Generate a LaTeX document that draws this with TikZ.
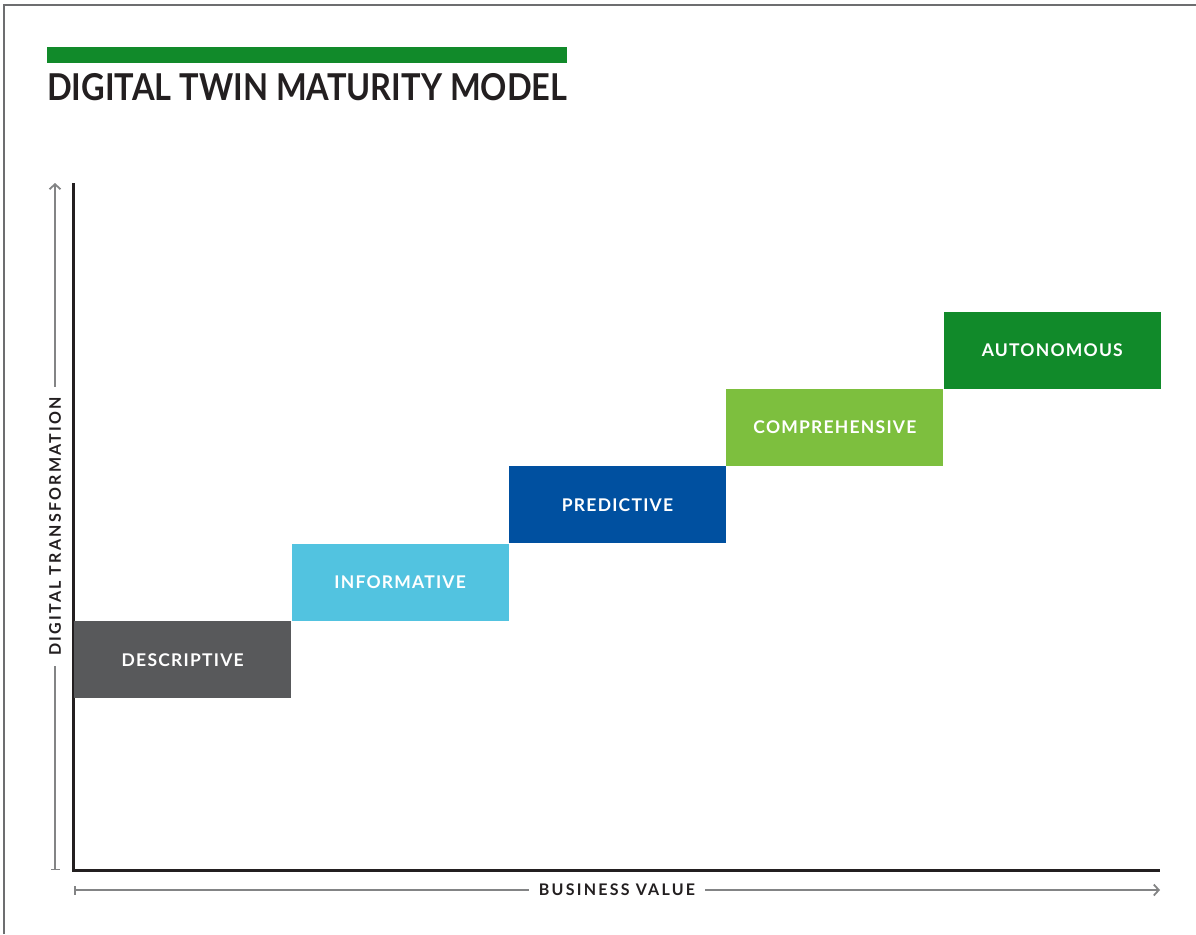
\documentclass[tikz,border=0pt]{standalone}
\usepackage{fontspec}
\setmainfont{Lato}
\newfontfamily\titlefont[FakeStretch=0.88]{Lato}
\newfontfamily\axisfont[LetterSpace=14]{Lato}
\newfontfamily\stagefont[LetterSpace=7]{Lato}
\usetikzlibrary{positioning}
\usetikzlibrary{arrows.meta}

\definecolor{twingreen}{HTML}{118A2A}
\definecolor{descgrey}{HTML}{58595B}
\definecolor{infoblue}{HTML}{52C3E0}
\definecolor{predblue}{HTML}{0050A0}
\definecolor{compgreen}{HTML}{7DBF3E}
\definecolor{inkdark}{HTML}{231F20}
\definecolor{framegrey}{HTML}{6D6E70}

\tikzset{
  stage/.style={minimum width=217pt,minimum height=77pt,inner sep=0pt,
    text=white,font=\stagefont\fontsize{17.5}{19}\selectfont\bfseries},
  mainaxis/.style={line width=3pt,draw=inkdark},
  guide/.style={line width=1.5pt,draw=framegrey!85,{Bar[width=9pt]}-{Straight Barb[length=5pt,width=11pt,line width=1.8pt]}},
  guidelabel/.style={fill=white,inner xsep=10pt,text=inkdark,
    font=\axisfont\fontsize{16}{18}\selectfont\bfseries}
}

\begin{document}
\begin{tikzpicture}[x=1pt,y=-1pt]
  \useasboundingbox (0,0) rectangle (1196,934);
  % frame
  \draw[framegrey,line width=2pt] (4,934) -- (4,5) -- (1196,5);

  % title
  \fill[twingreen] (47,47) rectangle (567,63);
  \node[anchor=base west,inner sep=0pt,text=inkdark,font=\titlefont\fontsize{37}{40}\selectfont\bfseries] (title) at (47,100) {DIGITAL TWIN MATURITY MODEL};

  % axes
  \coordinate (origin) at (73,870);
  \coordinate (ytop) at (73,183);
  \coordinate (xend) at (1160,870);
  \draw[mainaxis] (ytop) -- (origin) -- (xend);

  \coordinate (ylow) at (55,870);
  \coordinate (yhigh) at (55,183);
  \draw[guide] (ylow) -- (yhigh) node[midway,sloped,guidelabel] (ylabel) {DIGITAL TRANSFORMATION};
  \coordinate (xlow) at (74,890);
  \coordinate (xhigh) at (1160,890);
  \draw[guide] (xlow) -- (xhigh) node[midway,guidelabel] (xlabel) {BUSINESS VALUE};

  % stages
  \node[stage,fill=descgrey,anchor=north west] (descriptive) at (74,621) {DESCRIPTIVE};
  \node[stage,fill=infoblue,anchor=south west] (informative) at (descriptive.north east) {INFORMATIVE};
  \node[stage,fill=predblue,anchor=south west] (predictive) at (informative.north east) {PREDICTIVE};
  \node[stage,fill=compgreen,anchor=south west] (comprehensive) at (predictive.north east) {COMPREHENSIVE};
  \node[stage,fill=twingreen,anchor=south west] (autonomous) at (comprehensive.north east) {AUTONOMOUS};
\end{tikzpicture}
\end{document}
